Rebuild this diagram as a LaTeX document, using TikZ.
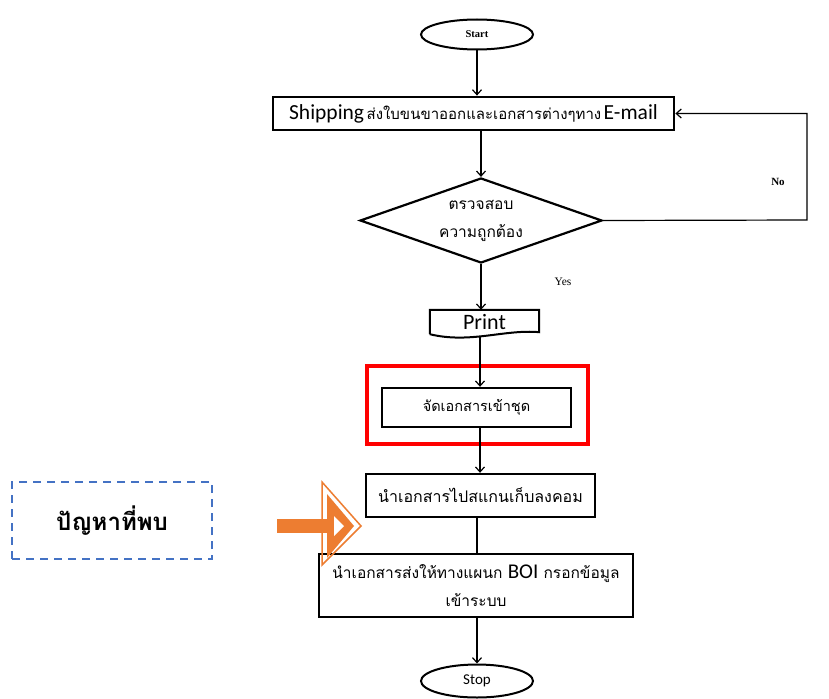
\documentclass[tikz,border=0pt]{standalone}
\usepackage{fontspec}
\setmainfont{Liberation Serif}
\newfontfamily\thaifont[Script=Thai]{Loma}
\newfontfamily\calibfont{Carlito}
\usetikzlibrary{shapes.geometric,arrows.meta}
\definecolor{dashblue}{HTML}{4472C4}
\definecolor{arrorange}{HTML}{ED7D31}
\begin{document}
\begin{tikzpicture}[x=1pt,y=-1pt,
  conn/.style={line width=1.2pt},
  arr/.style={conn,-{Straight Barb[length=5pt,width=9pt,line width=1.2pt]}},
  term/.style={ellipse,draw,line width=2pt,inner sep=0pt,minimum width=112pt,minimum height=30pt},
  procbox/.style={draw,line width=2.4pt,inner sep=0pt,align=center},
  thaitext/.style={font=\thaifont\fontsize{15.5}{28}\selectfont}
]
\useasboundingbox (0,0) rectangle (829,698);
\fill[white] (0,0) rectangle (829,698);

% nodes
\node[term,font=\bfseries\fontsize{10.5}{12}\selectfont] (start) at (477,34.5) {Start};
\node[procbox,minimum width=401pt,minimum height=33pt,line width=2.8pt] (ship) at (473.5,113.5)
  {{\calibfont\fontsize{21.5}{24}\selectfont Shipping} {\thaifont\fontsize{15}{22}\selectfont ส่งใบขนขาออกและเอกสารต่างๆทาง} {\calibfont\fontsize{21.5}{24}\selectfont E-mail}};
\node[diamond,draw,line width=2.2pt,aspect=2.85,inner sep=0pt,minimum width=242pt,minimum height=85pt,
  thaitext,align=center] (dia) at (481,220.5) {ตรวจสอบ\\ความถูกต้อง};
\node[inner sep=0pt,minimum width=109pt,minimum height=24pt,font=\calibfont\fontsize{22}{24}\selectfont] (print) at (484.5,322) {Print};
\draw[line width=2pt] (print.south west) -- (print.north west) -- (print.north east) -- ([yshift=2pt]print.south east)
  .. controls (505,329) and (470,344) .. (print.south west);
\node[procbox,minimum width=189pt,minimum height=39pt,font=\thaifont\fontsize{14.5}{20}\selectfont] (sort) at (476.5,407.5) {จัดเอกสารเข้าชุด};
\draw[red,line width=4pt] (367,366) rectangle (588,444);
\node[procbox,minimum width=229pt,minimum height=43pt,font=\thaifont\fontsize{16}{20}\selectfont] (scan) at (480.5,495.5) {นำเอกสารไปสแกนเก็บลงคอม};
\node[procbox,minimum width=314pt,minimum height=63pt,thaitext] (boi) at (476,585.5)
  {นำเอกสารส่งให้ทางแผนก {\calibfont\fontsize{21}{22}\selectfont BOI} กรอกข้อมูล\\เข้าระบบ};
\node[term,font=\calibfont\fontsize{15}{17}\selectfont,minimum height=33pt] (stop) at (477,681) {Stop};

% labels
\node[font=\bfseries\fontsize{11}{13}\selectfont] (nolab) at (778,182) {No};
\node[font=\fontsize{11.5}{13}\selectfont] (yeslab) at (563,282) {Yes};

% connectors
\coordinate (noR) at (807,220);
\draw[arr] (start.south) -- (start.south |- ship.north);
\draw[arr] (dia.north |- ship.south) -- (dia.north);
\draw[arr] (dia.south) -- (dia.south |- print.north);
\draw[arr] (dia.east) -- (noR) |- (ship.east);
\draw[arr] (480,336) -- (480,0 |- sort.north);
\draw[arr] (480,0 |- sort.south) -- (480,0 |- scan.north);
\draw[conn] (477,0 |- scan.south) -- (477,0 |- boi.north);
\draw[arr] (477,0 |- boi.south) -- (stop.north);

% problem box
\node[draw=dashblue,line width=2pt,dash pattern=on 8pt off 6pt,minimum width=200pt,minimum height=77pt,
  font=\thaifont\bfseries\fontsize{24}{28}\selectfont] (prob) at (112,520.5) {ปัญหาที่พบ};

% orange block arrow
\fill[arrorange] (277,519) rectangle (330,533);
\draw[arrorange,line width=1.5pt] (322,482) -- (361,526) -- (322,565) -- cycle;
\fill[arrorange] (327,494) -- (354,526) -- (327,558) -- cycle;
\fill[white] (334,516) -- (344,526) -- (334,536) -- cycle;
\end{tikzpicture}
\end{document}
